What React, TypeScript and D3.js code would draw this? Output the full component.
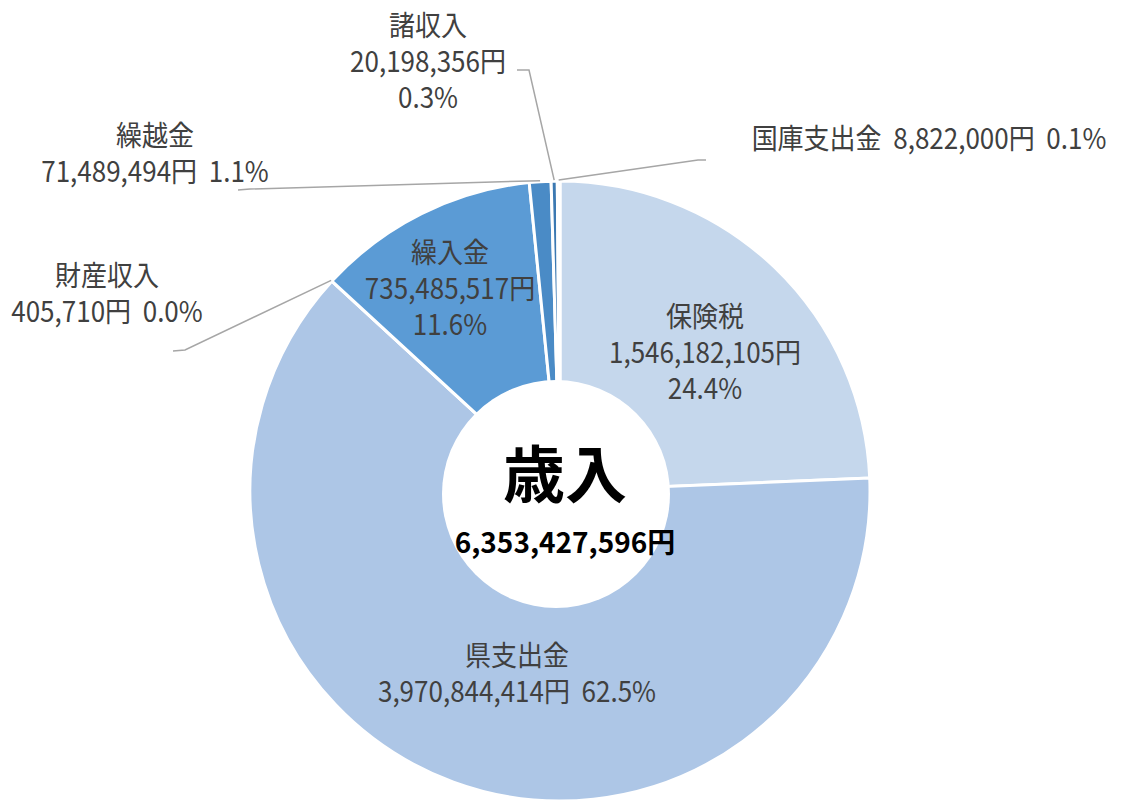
import React from "react";
import * as d3 from "d3";

// 歳入 内訳
const categories = ["保険税", "県支出金", "財産収入", "繰入金", "繰越金", "諸収入", "国庫支出金"];
const amounts = [1546182105, 3970844414, 405710, 735485517, 71489494, 20198356, 8822000];
const percentLabels = ["24.4%", "62.5%", "0.0%", "11.6%", "1.1%", "0.3%", "0.1%"];
const totalLabel = "6,353,427,596円";
const centerTitle = "歳入";

const colors = ["#C5D7EC", "#ADC6E6", "#8FB3DD", "#5B9BD5", "#4A8BC6", "#3C79B2", "#2E6AA6"];

const W = 1126;
const H = 803;
const cx = 560;
const cy = 491;
const outerR = 310;
const innerR = 105;

// label layout: x, first baseline, line texts built from data, leader (elbow, end)
type Lay = {
  x: number;
  y: number;
  mode: "three" | "two" | "one";
  leader?: [number, number][];
};
const layout: Lay[] = [
  { x: 705, y: 327, mode: "three" },
  { x: 517, y: 666, mode: "two" },
  { x: 107, y: 286, mode: "two", leader: [[185, 350], [173, 351]] },
  { x: 450, y: 263, mode: "three" },
  { x: 155, y: 146, mode: "two", leader: [[250, 189], [238, 190]] },
  { x: 428, y: 36, mode: "three", leader: [[529, 70], [517, 70]] },
  { x: 929, y: 149, mode: "one", leader: [[698, 160], [706, 160]] },
];

const fmt = d3.format(",");

const App: React.FC = () => {
  const pie = d3
    .pie<number>()
    .sort(null)
    .value((d) => d)
    .startAngle(0)
    .endAngle(2 * Math.PI);
  const arcs = pie(amounts);
  const arc = d3.arc<d3.PieArcDatum<number>>().innerRadius(innerR).outerRadius(outerR);

  const lineH = 36;
  const sy = 1.1;

  return (
    <svg
      width={W}
      height={H}
      viewBox={`0 0 ${W} ${H}`}
      style={{ position: "absolute", left: 0, top: 0, background: "#fff" }}
    >
      <g transform={`translate(${cx},${cy})`}>
        {arcs.map((a, i) => (
          <path key={i} d={arc(a) || ""} fill={colors[i]} stroke="#fff" strokeWidth={3} />
        ))}
      </g>
      <circle cx={556} cy={494} r={114} fill="#fff" />

      {/* leader lines */}
      {arcs.map((a, i) => {
        const l = layout[i];
        if (!l.leader) return null;
        const mid = (a.startAngle + a.endAngle) / 2;
        const p0: [number, number] = [cx + (outerR + 1) * Math.sin(mid), cy - (outerR + 1) * Math.cos(mid)];
        const pts = [p0, ...l.leader];
        return (
          <polyline
            key={"l" + i}
            points={pts.map((p) => p.join(",")).join(" ")}
            fill="none"
            stroke="#A6A6A6"
            strokeWidth={1.5}
          />
        );
      })}

      {/* labels */}
      {categories.map((c, i) => {
        const l = layout[i];
        const amt = fmt(amounts[i]) + "円";
        const pct = percentLabels[i];
        let lines: string[];
        if (l.mode === "three") lines = [c, amt, pct];
        else if (l.mode === "two") lines = [c, amt + "  " + pct];
        else lines = [c + "  " + amt + "  " + pct];
        return (
          <g key={"t" + i}>
            {lines.map((s, j) => (
              <text
                key={j}
                transform={`translate(${l.x},${l.y + j * lineH}) scale(1,${sy})`}
                textAnchor="middle"
                fontFamily="'Noto Sans CJK JP', sans-serif"
                fontSize={26}
                fill="#404040"
                style={{ whiteSpace: "pre" }}
              >
                {s}
              </text>
            ))}
          </g>
        );
      })}

      {/* center */}
      <text
        x={565}
        y={498}
        textAnchor="middle"
        fontFamily="'Noto Sans CJK JP', sans-serif"
        fontWeight="bold"
        fontSize={62}
        fill="#000"
      >
        {centerTitle}
      </text>
      <text
        x={565}
        y={553}
        textAnchor="middle"
        fontFamily="'Noto Sans CJK JP', sans-serif"
        fontWeight="bold"
        fontSize={28}
        fill="#000"
      >
        {totalLabel}
      </text>
    </svg>
  );
};

export default App;
